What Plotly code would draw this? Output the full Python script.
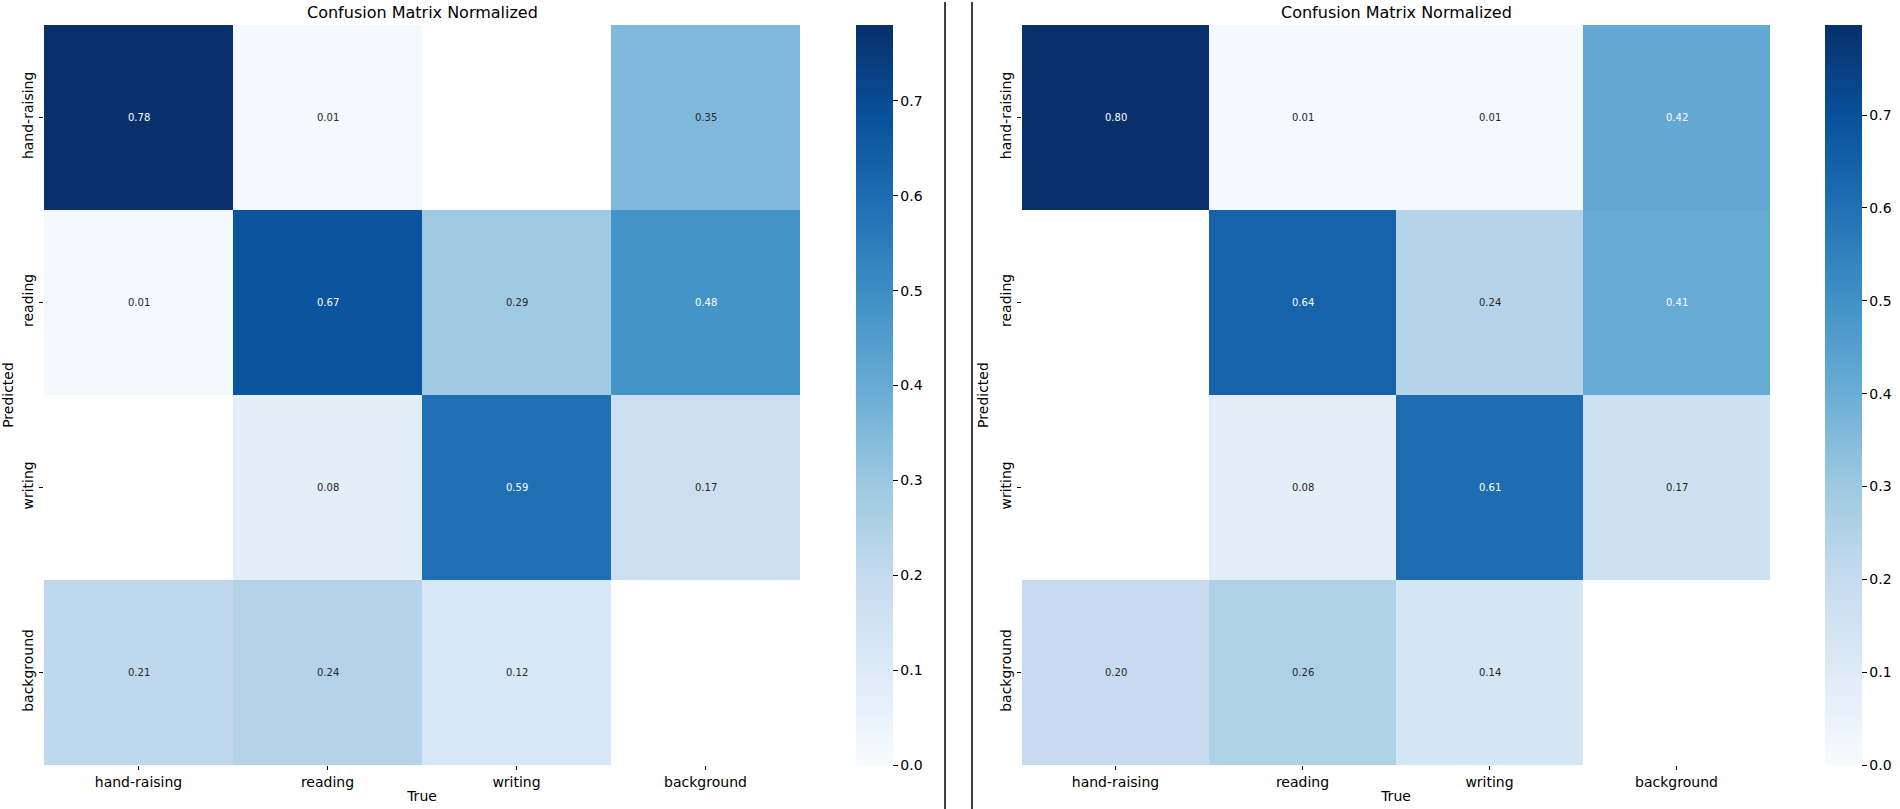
import plotly.graph_objects as go

categories = ["hand-raising", "reading", "writing", "background"]

# rows = Predicted, cols = True ; None = blank (masked) cell
left_values = [
    [0.78, 0.01, None, 0.35],
    [0.01, 0.67, 0.29, 0.48],
    [None, 0.08, 0.59, 0.17],
    [0.21, 0.24, 0.12, None],
]
right_values = [
    [0.797, 0.01, 0.01, 0.42],
    [None, 0.64, 0.24, 0.41],
    [None, 0.08, 0.61, 0.17],
    [0.20, 0.26, 0.14, None],
]
title_text = "Confusion Matrix Normalized"
x_title = "True"
y_title = "Predicted"

W, H = 1900, 809
FONT = "DejaVu Sans"

blues = [
    [0.0, "#f7fbff"], [0.125, "#deebf7"], [0.25, "#c6dbef"], [0.375, "#9ecae1"],
    [0.5, "#6baed6"], [0.625, "#4292c6"], [0.75, "#2171b5"], [0.875, "#08519c"],
    [1.0, "#08306b"],
]

top_px, bot_px = 25, 765
ydom = [1 - bot_px / H, 1 - top_px / H]
panels = [
    dict(vals=left_values, x0=44, x1=800, cb=856, ax=""),
    dict(vals=right_values, x0=1022, x1=1770, cb=1825, ax="2"),
]

fig = go.Figure()
annotations = []
for p in panels:
    vals = p["vals"]
    flat = [v for r in vals for v in r if v is not None]
    vmax = max(flat)
    fig.add_trace(go.Heatmap(
        z=vals, x=categories, y=categories,
        xaxis="x" + p["ax"], yaxis="y" + p["ax"],
        colorscale=blues, zmin=0, zmax=vmax, hoverongaps=False,
        colorbar=dict(
            x=p["cb"] / W, xanchor="left", xref="paper", xpad=0,
            y=(ydom[0] + ydom[1]) / 2, yanchor="middle", ypad=0,
            len=bot_px - top_px, lenmode="pixels",
            thickness=37, outlinewidth=0,
            ticks="outside", ticklen=5, tickwidth=1.3, tickcolor="black",
            dtick=0.1, tick0=0, tickformat=".1f",
            tickfont=dict(family=FONT, size=14, color="black"),
        ),
    ))
    for i, row in enumerate(vals):
        for j, v in enumerate(row):
            if v is None:
                continue
            annotations.append(dict(
                x=categories[j], y=categories[i],
                xref="x" + p["ax"], yref="y" + p["ax"],
                text=f"{v:.2f}", showarrow=False,
                font=dict(family=FONT, size=10,
                          color="white" if v / vmax > 0.5 else "#262626"),
            ))
    annotations.append(dict(
        x=(p["x0"] + p["x1"]) / 2 / W, y=1 - 13 / H, xref="paper", yref="paper",
        text=title_text, showarrow=False, xanchor="center", yanchor="middle",
        font=dict(family=FONT, size=16, color="black"),
    ))
    xa = dict(
        domain=[p["x0"] / W, p["x1"] / W], anchor="y" + p["ax"],
        showgrid=False, zeroline=False, showline=False,
        ticks="outside", ticklen=4, tickwidth=1, tickcolor="black",
        tickfont=dict(family=FONT, size=14, color="black"),
        title=dict(text=x_title, font=dict(family=FONT, size=14, color="black"), standoff=2),
    )
    ya = dict(
        domain=ydom, anchor="x" + p["ax"], autorange="reversed",
        showgrid=False, zeroline=False, showline=False,
        ticks="outside", ticklen=4, tickwidth=1, tickcolor="black", tickangle=-90,
        tickfont=dict(family=FONT, size=14, color="black"),
        title=dict(text=y_title, font=dict(family=FONT, size=14, color="black"), standoff=6),
    )
    fig.layout["xaxis" + p["ax"]] = xa
    fig.layout["yaxis" + p["ax"]] = ya

shapes = [
    dict(type="line", xref="paper", yref="paper", x0=945 / W, x1=945 / W, y0=0, y1=1 - 2 / H,
         line=dict(color="black", width=1.5)),
    dict(type="line", xref="paper", yref="paper", x0=972 / W, x1=972 / W, y0=0, y1=1 - 2 / H,
         line=dict(color="black", width=1.5)),
]

fig.update_layout(
    width=W, height=H, margin=dict(l=0, r=0, t=0, b=0),
    paper_bgcolor="white", plot_bgcolor="white",
    annotations=annotations, shapes=shapes, showlegend=False,
    font=dict(family=FONT),
)
fig.write_html(
    "out.html",
    config={"displayModeBar": False},
    post_script="document.body.style.margin='0';document.body.style.overflow='hidden';",
)
